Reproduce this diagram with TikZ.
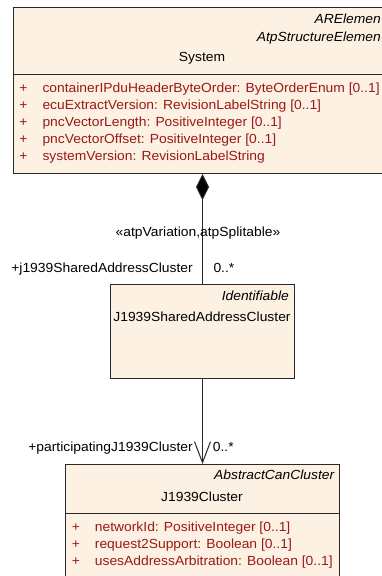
\documentclass[tikz,border=0pt]{standalone}
\usepackage{fontspec}
\setmainfont[FakeStretch=1.05]{Liberation Sans}
\usepackage{tikz}
\usetikzlibrary{arrows.meta,positioning}
\usepackage{xcolor}
\definecolor{classfill}{RGB}{252,241,226}
\definecolor{attrred}{RGB}{155,25,25}
\definecolor{boxline}{RGB}{40,40,40}

\begin{document}
\begin{tikzpicture}[
    x=1pt, y=-1pt,
    umlclass/.style={rectangle, draw=boxline, fill=classfill, line width=1pt,
        inner sep=0pt, anchor=north west},
    umltext/.style={inner sep=0pt, font=\fontsize{13.2}{17}\selectfont},
    stereo/.style={umltext, font=\fontsize{13.2}{17}\selectfont\itshape, anchor=base east},
    clsname/.style={umltext, anchor=base},
    attrtxt/.style={umltext, text=attrred, anchor=base west},
    attrplus/.style={umltext, text=attrred, anchor=base},
    rolelabel/.style={umltext},
    assoc/.style={line width=1pt, draw=boxline}
]
\clip (0,0) rectangle (382,576);

% System
\node[umlclass, minimum width=378pt, minimum height=166pt] (system) at (13,7) {};
\draw[line width=1pt, boxline] (13,74) -- (391,74);
\node[stereo] (sysstereoA) at (381,23) {ARElemen};
\node[stereo] (sysstereoB) at (381,41) {AtpStructureElemen};
\node[clsname] (sysname) at (202,61) {System};
\foreach \i/\y/\t in {1/92/{containerIPduHeaderByteOrder: ByteOrderEnum [0..1]},
                      2/109/{ecuExtractVersion: RevisionLabelString [0..1]},
                      3/126.3/{pncVectorLength: PositiveInteger [0..1]},
                      4/143.3/{pncVectorOffset: PositiveInteger [0..1]},
                      5/160.5/{systemVersion: RevisionLabelString}} {
    \node[attrplus] (sysplus\i) at (23.3,\y) {+};
    \node[attrtxt] (sysattr\i) at (42.3,\y) {\t};
}

% J1939SharedAddressCluster
\node[umlclass, minimum width=184pt, minimum height=94pt] (shared) at (110,284) {};
\node[stereo] (sharedstereo) at (289,300) {Identifiable};
\node[clsname] (sharedname) at (202,321.5) {J1939SharedAddressCluster};

% J1939Cluster
\node[umlclass, minimum width=274pt, minimum height=130pt] (cluster) at (65,464) {};
\draw[line width=1pt, boxline] (65,513.3) -- (339,513.3);
\node[stereo] (clusterstereo) at (334.5,479.3) {AbstractCanCluster};
\node[clsname] (clustername) at (202,501.7) {J1939Cluster};
\foreach \i/\y/\t in {1/531/{networkId: PositiveInteger [0..1]},
                      2/548.3/{request2Support: Boolean [0..1]},
                      3/565.5/{usesAddressArbitration: Boolean [0..1]}} {
    \node[attrplus] (clusterplus\i) at (76,\y) {+};
    \node[attrtxt] (clusterattr\i) at (94.7,\y) {\t};
}

% associations
\draw[assoc, {Diamond[length=26pt,width=13pt,fill=black]}-] (system.south) -- (shared.north);
\node[rolelabel, anchor=base] (stereoassoc) at (198,236.7) {«atpVariation,atpSplitable»};
\node[rolelabel, anchor=base east] (roleshared) at (193,272.5) {+j1939SharedAddressCluster};
\node[rolelabel, anchor=base west] (multshared) at (213.3,272.5) {0..*};

\draw[assoc, -{Straight Barb[length=21pt,width=16pt]}] (shared.south) -- (cluster.north);
\node[rolelabel, anchor=base east] (rolecluster) at (193,451.7) {+participatingJ1939Cluster};
\node[rolelabel, anchor=base west] (multcluster) at (212.7,451.7) {0..*};
\end{tikzpicture}
\end{document}
